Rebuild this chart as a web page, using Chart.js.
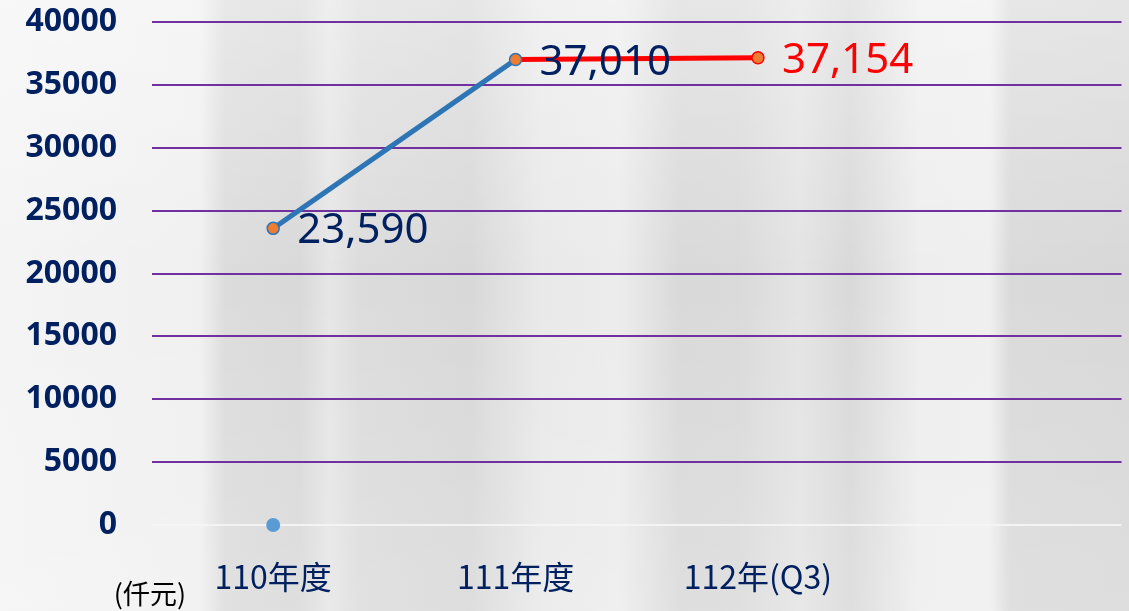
<!DOCTYPE html>
<html lang="zh-Hant">
<head>
  <meta charset="UTF-8">
  <title>110-112年度 金額趨勢</title>
  <script src="https://cdn.jsdelivr.net/npm/chart.js"></script>
  <style>
    html, body {
      margin: 0;
      padding: 0;
      width: 1129px;
      height: 611px;
      overflow: hidden;
    }
    body {
      background:
        linear-gradient(180deg, rgba(255,255,255,0.35) 0%, rgba(255,255,255,0) 45%, rgba(255,255,255,0.15) 100%),
        linear-gradient(90deg,
          #f4f4f4 0px, #f0f0f0 200px, #dcdcdc 225px, #d9d9d9 300px, #e6e6e6 330px, #dcdcdc 360px,
          #d8d8d8 470px, #e9e9e9 540px, #ececec 620px, #d9d9d9 680px, #dadada 740px,
          #e4e4e4 800px, #d9d9d9 850px, #eeeeee 920px, #efefef 990px, #dadada 1010px, #d8d8d8 1129px);
    }
    .wrap {
      position: relative;
      width: 1129px;
      height: 611px;
    }
  </style>
</head>
<body>

  <div class="wrap">
    <canvas id="trendChart" width="1129" height="611"></canvas>
  </div>

  <script>
    // data
    const categories = ['110年度', '111年度', '112年(Q3)', ''];
    const actualValues = [23590, 37010, null, null];   // blue line
    const latestValues = [null, 37010, 37154, null];   // red segment
    const zeroDot = [0, null, null, null];             // lone light-blue dot
    const yTicks = [0, 5000, 10000, 15000, 20000, 25000, 30000, 35000, 40000];
    const unitLabel = '(仟元)';

    const navy = '#002060';

    // value labels to the right of points
    const valueLabels = {
      id: 'valueLabels',
      afterDatasetsDraw(chart) {
        const ctx = chart.ctx;
        ctx.save();
        ctx.font = '42px "Noto Sans", sans-serif';
        ctx.textAlign = 'left';
        ctx.textBaseline = 'middle';
        chart.data.datasets.forEach((ds, i) => {
          if (!ds.labelAt) return;
          const meta = chart.getDatasetMeta(i);
          ds.labelAt.forEach(idx => {
            const pt = meta.data[idx];
            const v = ds.data[idx];
            ctx.fillStyle = ds.labelColor;
            ctx.fillText(v.toLocaleString('en-US'), pt.x + 24, pt.y + 3);
          });
        });
        ctx.restore();
      }
    };

    // unit text under the y axis
    const unitText = {
      id: 'unitText',
      afterDraw(chart) {
        const ctx = chart.ctx;
        ctx.save();
        ctx.font = '27px "Noto Sans CJK TC", sans-serif';
        ctx.fillStyle = '#000';
        ctx.textAlign = 'center';
        ctx.textBaseline = 'middle';
        ctx.fillText(unitLabel, 150, 594);
        ctx.restore();
      }
    };

    const chart = new Chart(document.getElementById('trendChart'), {
      type: 'line',
      data: {
        labels: categories,
        datasets: [
          {
            data: actualValues,
            borderColor: '#2E75B6',
            borderWidth: 5,
            pointRadius: 6,
            pointBackgroundColor: '#ED7D31',
            pointBorderColor: '#2E75B6',
            pointBorderWidth: 1.5,
            clip: false,
            order: 1,
            labelAt: [0, 1],
            labelColor: navy
          },
          {
            data: latestValues,
            borderColor: '#FF0000',
            borderWidth: 5,
            pointRadius: [0, 0, 6, 0],
            pointBackgroundColor: '#ED7D31',
            pointBorderColor: '#FF0000',
            pointBorderWidth: 1.5,
            clip: false,
            order: 2,
            labelAt: [2],
            labelColor: '#FF0000'
          },
          {
            data: zeroDot,
            showLine: false,
            pointRadius: 7,
            pointBackgroundColor: '#5B9BD5',
            pointBorderWidth: 0,
            clip: false,
            order: 3
          }
        ]
      },
      options: {
        responsive: false,
        animation: false,
        plugins: {
          legend: { display: false },
          tooltip: { enabled: false }
        },
        layout: {
          padding: { top: 22, right: 7, left: 0, bottom: 0 }
        },
        scales: {
          x: {
            offset: true,
            grid: { display: false, drawTicks: false },
            border: { display: false },
            ticks: {
              color: navy,
              padding: 33,
              maxRotation: 0,
              font: { family: '"Noto Sans CJK TC", sans-serif', size: 32 }
            },
            afterFit(scale) {
              scale.height = 86;
              scale.paddingLeft = 0;
              scale.paddingRight = 0;
            }
          },
          y: {
            min: 0,
            max: 40000,
            afterBuildTicks(scale) {
              scale.ticks = yTicks.map(v => ({ value: v }));
            },
            grid: {
              drawTicks: false,
              lineWidth: 2,
              color: c => c.tick && c.tick.value === 0 ? 'rgba(245,245,245,0.9)' : '#7030A0'
            },
            border: { display: false },
            ticks: {
              color: navy,
              padding: 35,
              font: { family: '"Noto Sans", sans-serif', size: 32, weight: 'bold' },
              callback: v => String(v)
            },
            afterFit(scale) {
              scale.width = 152;
              scale.paddingTop = 0;
              scale.paddingBottom = 0;
            }
          }
        }
      },
      plugins: [valueLabels, unitText]
    });
  </script>

</body>
</html>
